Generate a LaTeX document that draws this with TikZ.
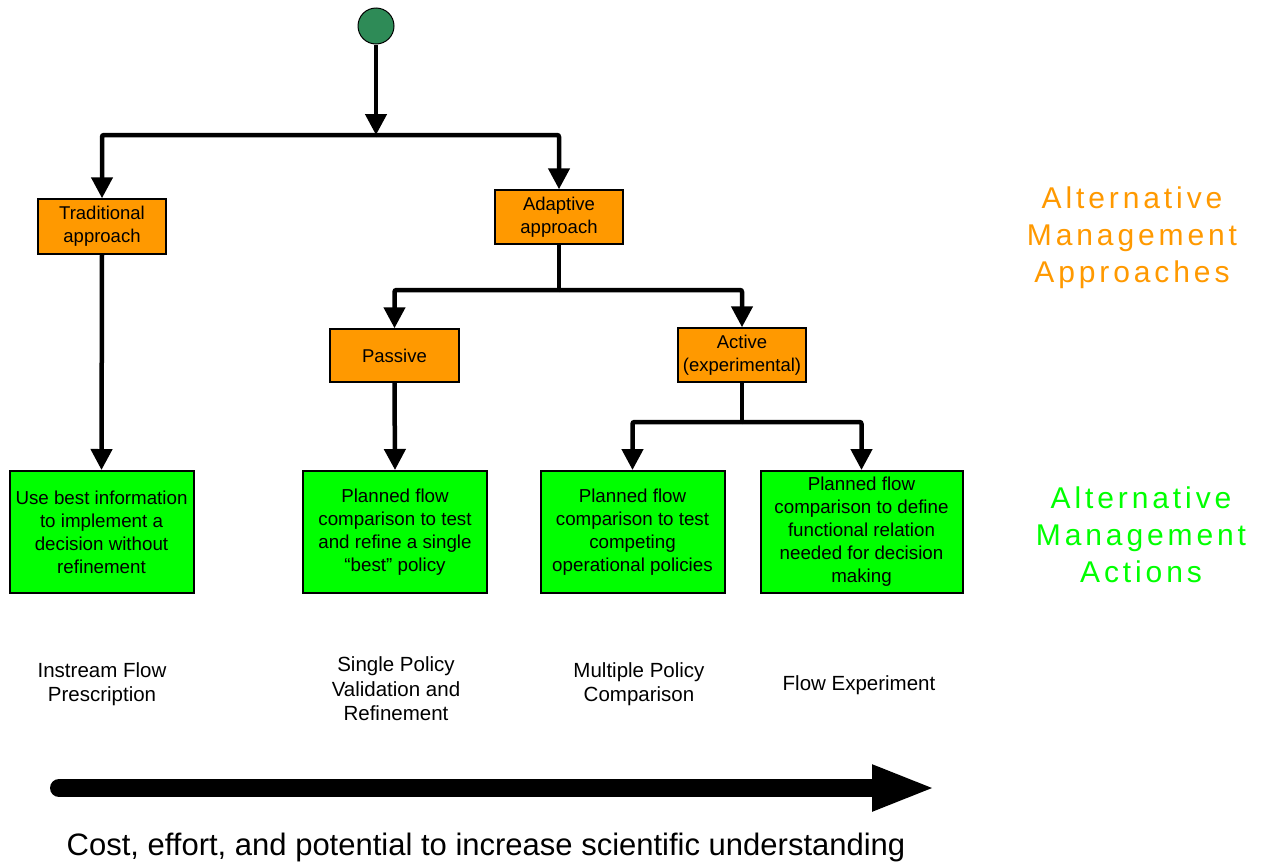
\documentclass[tikz,border=0pt]{standalone}
\usepackage{fontspec}
\setmainfont{Liberation Sans}
\newfontfamily\widefont[LetterSpace=13]{Liberation Sans}
\usetikzlibrary{arrows.meta}
\definecolor{boxorange}{RGB}{255,153,0}
\definecolor{boxgreen}{RGB}{0,255,0}
\definecolor{startgreen}{RGB}{46,139,87}
\definecolor{txtorange}{RGB}{255,153,0}
\definecolor{txtgreen}{RGB}{0,255,0}
\tikzset{
  obox/.style={draw=black, line width=1.5pt, fill=boxorange, inner sep=0pt, align=center,
    font=\fontsize{18.5}{23}\selectfont},
  gbox/.style={draw=black, line width=2pt, fill=boxgreen, inner sep=0pt, align=center,
    font=\fontsize{18.75}{23}\selectfont},
  conn/.style={line width=4.5pt, rounded corners=2pt},
  arr/.style={conn, -{Triangle[length=21pt,width=21pt]}},
  lbl/.style={align=center, font=\fontsize{20.5}{24.5}\selectfont},
  side/.style={align=center, font=\widefont\fontsize{30}{37}\selectfont},
}
\begin{document}
\begin{tikzpicture}[x=1pt,y=-1pt]
\useasboundingbox (0,0) rectangle (1261,865);
% start
\node[circle, draw=black, line width=1pt, fill=startgreen, minimum size=36pt, inner sep=0pt] (start) at (376,26) {};
% approaches
\node[obox, minimum width=128pt, minimum height=55pt] (trad) at (102,226.5) {Traditional\\approach};
\node[obox, minimum width=128pt, minimum height=54pt] (adap) at (559,217) {Adaptive\\approach};
\node[obox, minimum width=129pt, minimum height=53pt] (pass) at (394.5,355.5) {Passive};
\node[obox, minimum width=128pt, minimum height=54pt] (act) at (742,355) {Active\\(experimental)};
% actions
\node[gbox, minimum width=184pt, minimum height=122pt] (a1) at (101.5,532) {Use best information\\to implement a\\decision without\\refinement};
\node[gbox, minimum width=184pt, minimum height=122pt] (a2) at (395,532) {Planned flow\\comparison to test\\and refine a single\\``best'' policy};
\node[gbox, minimum width=184pt, minimum height=122pt] (a3) at (632.5,532) {Planned flow\\comparison to test\\competing\\operational policies};
\node[gbox, minimum width=202pt, minimum height=122pt] (a4) at (861.5,532) {Planned flow\\comparison to define\\functional relation\\needed for decision\\making};
% junctions
\coordinate (j1) at (376,135);
\coordinate (j2) at (559,290);
\coordinate (j3) at (742,422);
\draw[arr] (start.south) -- (j1);
\draw[arr] (j1) -| (trad.north);
\draw[arr] (j1) -| (adap.north);
\draw[conn] (adap.south) -- (j2);
\draw[arr] (j2) -| (pass.north);
\draw[arr] (j2) -| (act.north);
\draw[conn] (act.south) -- (j3);
\draw[arr] (j3) -| (a3.north);
\draw[arr] (j3) -| (a4.north);
\draw[arr] (trad.south) -- (a1.north);
\draw[arr] (pass.south) -- (a2.north);
% side labels
\node[side, text=txtorange] (sideA) at (1132,238) {Alternative\\Management\\Approaches};
\node[side, text=txtgreen] (sideB) at (1141,535) {Alternative\\Management\\Actions};
% bottom labels
\node[lbl] (l1) at (102,684) {Instream Flow\\Prescription};
\node[lbl] (l2) at (396,689) {Single Policy\\Validation and\\Refinement};
\node[lbl] (l3) at (639,684) {Multiple Policy\\Comparison};
\node[lbl] (l4) at (859,685) {Flow Experiment};
% big arrow
\coordinate (bs) at (59,788);
\coordinate (be) at (936,788);
\draw[line width=18pt, line cap=round, -{Triangle[length=64pt,width=42pt]}] (bs) -- (be);
\node[font=\fontsize{31}{36}\selectfont] (cost) at (486,847) {Cost, effort, and potential to increase scientific understanding};
\end{tikzpicture}
\end{document}
